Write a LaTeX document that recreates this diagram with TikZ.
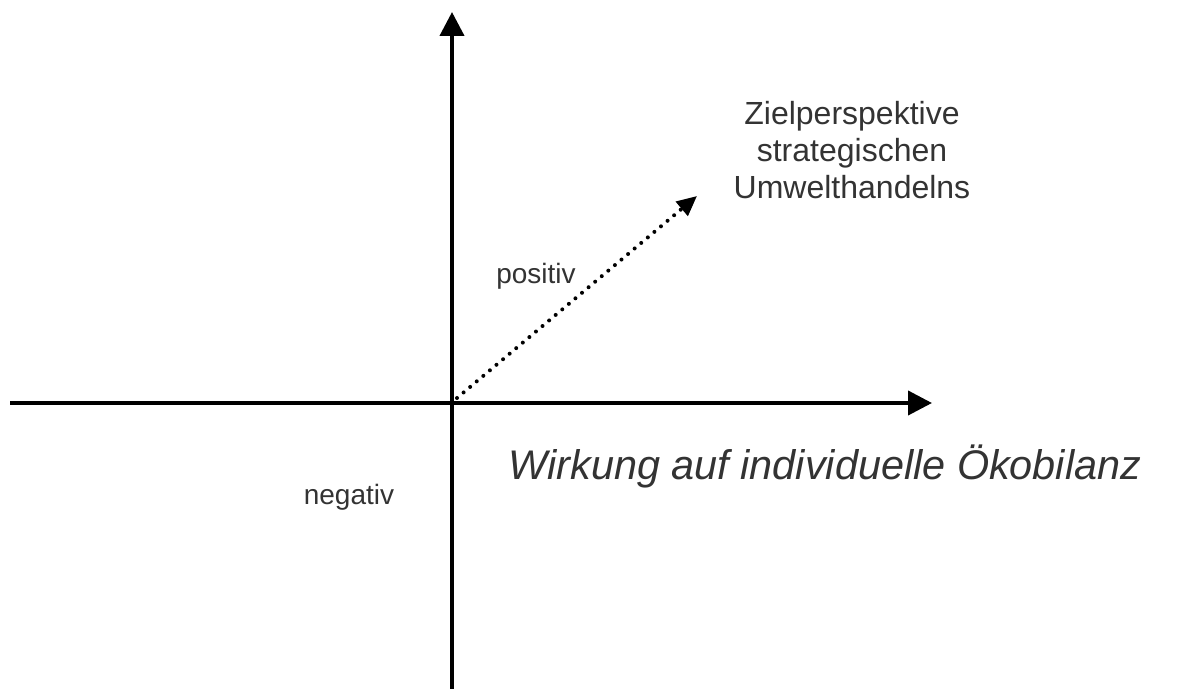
\documentclass[tikz,border=0pt]{standalone}
\usepackage{fontspec}
\setmainfont{Liberation Sans}
\usepackage{tikz}
\usetikzlibrary{arrows.meta}

\begin{document}
\begin{tikzpicture}[x=0.5pt, y=-0.5pt,
    achse/.style={line width=2pt, -{Triangle[length=12pt, width=12pt]}},
    ziellinie/.style={line width=2pt, line cap=round, dash pattern=on 0pt off 4.3pt,
        -{Triangle[length=10pt, width=9pt]}},
    beschriftung/.style={text=black!80, font=\fontsize{16}{18}\selectfont, align=center}]

\useasboundingbox (0,0) rectangle (1184,689);

% Achsen
\coordinate (o) at (452,403);
\coordinate (xl) at (10,403);
\coordinate (xr) at (932,403);
\coordinate (yb) at (452,689);
\coordinate (yt) at (452,12);
\draw[achse] (xl) -- (xr);
\draw[achse] (yb) -- (yt);

% Zielpfeil
\coordinate (zs) at (457,398);
\coordinate (ze) at (697,196);
\draw[ziellinie] (zs) -- (ze);

% Texte
\node[beschriftung, font=\fontsize{16}{18.5}\selectfont] (ziel) at (852,150)
    {Zielperspektive\\strategischen\\Umwelthandelns};
\node[beschriftung, font=\fontsize{14}{16}\selectfont] (pos) at (536,276) {positiv};
\node[beschriftung, font=\fontsize{14}{16}\selectfont] (neg) at (349,497) {negativ};
\node[beschriftung, font=\fontsize{20.7}{23}\selectfont\itshape] (wirk) at (825,466)
    {Wirkung auf individuelle Ökobilanz};

\end{tikzpicture}
\end{document}
